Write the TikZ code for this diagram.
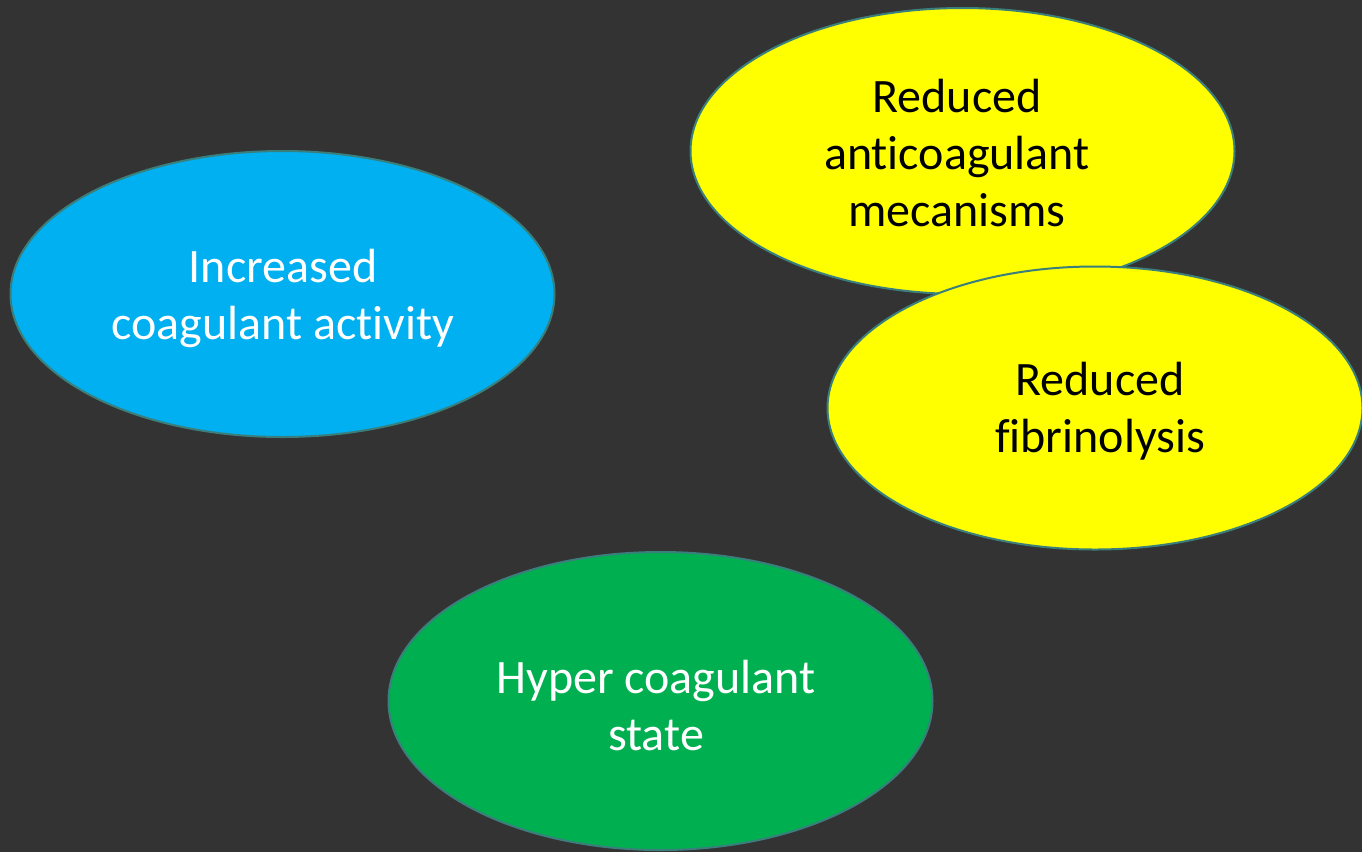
\documentclass[tikz,border=0pt]{standalone}
\usepackage{fontspec}
\setmainfont{Carlito}[Ligatures=NoCommon]
\usetikzlibrary{shapes.geometric}
\definecolor{bg}{HTML}{333333}
\definecolor{cblue}{HTML}{00B0F0}
\definecolor{cyellow}{HTML}{FFFF00}
\definecolor{cgreen}{HTML}{00B050}
\definecolor{edge}{HTML}{3A7F7C}
\tikzset{
  blob/.style={ellipse, draw=edge, line width=2pt, inner sep=0pt,
    minimum width=544pt, minimum height=286pt},
  lbl/.style={align=center, inner sep=0pt, font=\fontsize{48}{57}\selectfont},
}
\begin{document}
\begin{tikzpicture}[x=1pt,y=-1pt]
\fill[bg] (0,0) rectangle (1362,852);
\useasboundingbox (0,0) rectangle (1362,852);
\node[blob, fill=cblue] (inc) at (282.5,294) {};
\node[lbl, text=white] (inct) at (283,298) {Increased\\coagulant activity};
\node[blob, fill=cyellow] (anti) at (962.5,151) {};
\node[lbl, text=black] (antit) at (957,153) {Reduced\\anticoagulant\\mecanisms};
\node[blob, fill=cyellow, minimum width=535pt, minimum height=283pt] (fib) at (1095,408) {};
\node[lbl, text=black] (fibt) at (1100,411) {Reduced\\fibrinolysis};
\node[blob, fill=cgreen, minimum height=298pt] (hyp) at (660.5,701) {};
\node[lbl, text=white] (hypt) at (656,705) {Hyper coagulant\\state};
\end{tikzpicture}
\end{document}
